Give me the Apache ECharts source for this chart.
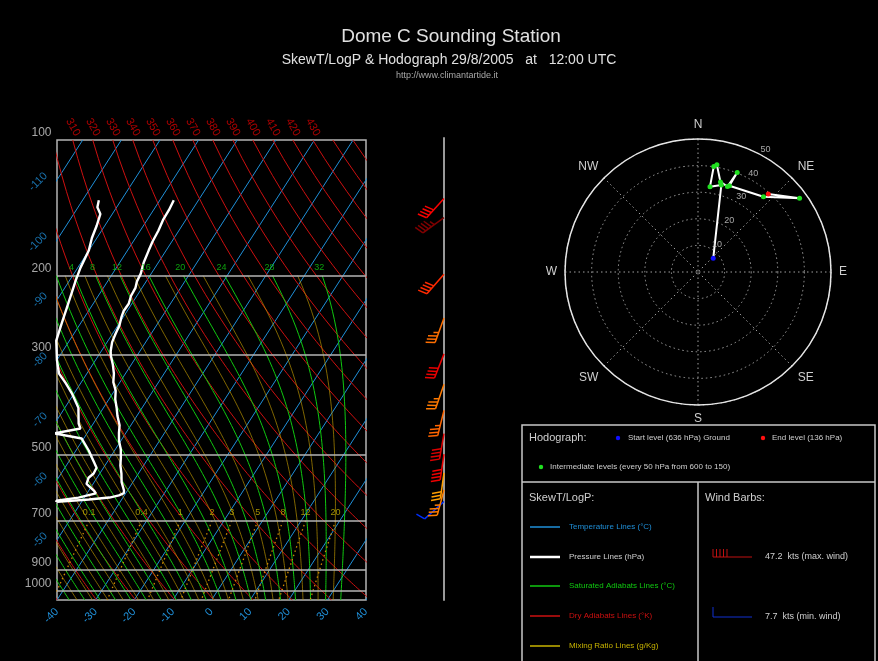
<!DOCTYPE html>
<html><head><meta charset="utf-8">
<script src="https://cdn.jsdelivr.net/npm/echarts/dist/echarts.min.js"></script>
<style>html,body{margin:0;padding:0;background:#000}#c{width:878px;height:661px}</style>
</head><body><div id="c"></div><script>
// ---------------- data ----------------
const pressureLabels = [100, 200, 300, 500, 700, 900, 1000];
const pressureLines = [200, 300, 500, 700, 900, 1000];
const isothermValues = [-110,-100,-90,-80,-70,-60,-50,-40,-30,-20,-10,0,10,20,30,40];
const isothermSideLabels = [-110,-100,-90,-80,-70,-60,-50];
const dryAdiabatTheta = [230,240,250,260,270,280,290,300,310,320,330,340,350,360,370,380,390,400,410,420,430,440,450];
const dryAdiabatLabels = [310,320,330,340,350,360,370,380,390,400,410,420,430];
const moistThetaW = [-40,-36,-32,-28,-24,-20,-16,-12,-8,-4,0,4,8,12,16,20,24,28,32];
const moistThetaWMinor = [-38,-34,-30,-26,-22,-18,-14,-10,-6,-2,2,6,10,14,18,22,26,30];
const moistLabels = [4,8,12,16,20,24,28,32];
const mixingRatios = [0.1,0.4,1,2,3,5,8,12,20];

// sounding: temperature
const tempP = [136,143,150,159,168,176,187,198,206,213,222,231,240,248,258,269,281,294,301,315,330,345,360,376,393,410,430,447,465,486,507,528,550,575,600,608,615,622,628,636];
const tempT = [-76.4,-76.0,-75.9,-75.3,-75.0,-74.5,-73.8,-72.7,-72.4,-71.7,-71.5,-70.8,-70.9,-70.4,-69.6,-69.2,-68.7,-67.6,-66.8,-64.8,-63.0,-61.7,-59.7,-58.4,-56.6,-55.0,-52.9,-51.8,-50.5,-48.6,-47.2,-46.0,-44.4,-42.9,-40.9,-40.5,-41.4,-43.5,-48.5,-56.3];
// sounding: dew point
const dewP = [136,141,146,155,165,176,192,205,218,235,255,279,308,330,347,365,393,426,437,448,460,489,507,534,550,562,580,600,609,622,632,636];
const dewT = [-95.8,-95.0,-93.1,-92.1,-91.3,-90.0,-89.3,-88.4,-87.4,-86.2,-84.9,-83.4,-80.0,-77.2,-73.8,-70.6,-66.5,-63.8,-62.5,-68.5,-60.5,-56.7,-54.7,-51.8,-51.6,-52.2,-51.7,-48.7,-47.7,-51.5,-56.7,-56.5];

// wind / hodograph levels (hPa), speed (kts), direction (deg, hodograph vector)
const windP = [636,600,550,500,450,400,350,300,250,200,150,136];
const windSpeed = [7.7,33.9,32.4,40.1,40.9,34.9,34.0,40.2,34.5,37.5,47.2,39.5];
const windDir = [48,15,8,8.5,10,14,19,21.5,20,41,54,42];

const hodoRings = [10,20,30,40,50];
const compass = {0:'N',45:'NE',90:'E',135:'SE',180:'S',225:'SW',270:'W',315:'NW'};

// ---------------- helpers ----------------
const SKEW = 32.6, PBOT = 1050;
const FONT = "'Liberation Sans', Arial, sans-serif";
const BLUE='#1f8fd8', RED='#cc1010', GREEN='#10c810', YEL='#c8b400', OLIVE='rgba(190,150,0,0.75)', ORANGE='#d08a00';
function X(T,p){ return T + SKEW*Math.log(PBOT/p); }
function dryT(theta,p){ return theta*Math.pow(p/1000,0.2857) - 273.15; }
function esat(TK){ return 6.112*Math.exp(17.67*(TK-273.15)/(TK-29.65)); }
function moistPath(tw, ptop){
  const Rd=287.04, cp=1005.7, Lv=2.501e6, eps=0.622;
  const f=(T,p)=>{const e=esat(T); const rs=eps*e/(p-e); return (Rd*T+Lv*rs)/(p*(cp+Lv*Lv*rs*eps/(Rd*T*T)));};
  const pts=[]; let T=tw+273.15, p=1000; const h=2;
  pts.push([p,T]);
  while(p>ptop){ const k1=f(T,p); const k2=f(T-k1*h/2,p-h/2); T-=k2*h; p-=h; if(p%10===0) pts.push([p,T]); }
  const down=[]; T=tw+273.15; p=1000;
  while(p<PBOT){ const k1=f(T,p); const k2=f(T+k1*h/2,p+h/2); T+=k2*h; p+=h; if(p%10===0) down.push([p,T]); }
  return down.reverse().concat(pts).map(d=>[X(d[1]-273.15,d[0]), d[0]]);
}
function mixT(w,p){ const e=w*p/(622+w); const a=Math.log(e/6.112); return 243.5*a/(17.67-a); }
function jet(s){ const f=Math.min(1,s/45); const c=v=>Math.round(255*Math.max(0,Math.min(1,v)));
  return 'rgb('+c(1.5-Math.abs(4*f-3))+','+c(1.5-Math.abs(4*f-2))+','+c(1.5-Math.abs(4*f-1))+')'; }

const pSamples=[]; for(let p=100;p<=PBOT;p+=10) pSamples.push(p);

const series=[];
function addLine(data,color,width,type){
  series.push({type:'line',xAxisIndex:0,yAxisIndex:0,data,symbol:'none',silent:true,animation:false,clip:true,
    lineStyle:{color,width:width||1,type:type||'solid'},z:2});
}
// isotherms
isothermValues.forEach(T=>addLine([[X(T,PBOT),PBOT],[X(T,100),100]],BLUE,1));
// dry adiabats
dryAdiabatTheta.forEach(th=>addLine(pSamples.map(p=>[X(dryT(th,p),p),p]),RED,1));
// moist adiabats (from 200 hPa down)
moistThetaWMinor.forEach(tw=>addLine(moistPath(tw,200),OLIVE,0.9));
moistThetaW.forEach(tw=>addLine(moistPath(tw,200),GREEN,1));
// mixing ratio lines (dotted, 700 hPa to bottom)
const pMix=[]; for(let p=700;p<=PBOT;p+=10) pMix.push(p);
mixingRatios.forEach(w=>addLine(pMix.map(p=>[X(mixT(w,p),p),p]),ORANGE,1.3,[1.5,3]));
// pressure lines
series.push({type:'line',xAxisIndex:0,yAxisIndex:0,data:[],silent:true,animation:false,
  markLine:{symbol:'none',silent:true,animation:false,label:{show:false},lineStyle:{color:'#b4b4b4',width:1.6,type:'solid'},
    data:pressureLines.map(p=>({yAxis:p}))},z:3});
// sounding
series.push({type:'line',xAxisIndex:0,yAxisIndex:0,data:tempP.map((p,i)=>[X(tempT[i],p),p]),symbol:'none',animation:false,
  lineStyle:{color:'#ffffff',width:2.4},z:5,clip:true});
series.push({type:'line',xAxisIndex:0,yAxisIndex:0,data:dewP.map((p,i)=>[X(dewT[i],p),p]),symbol:'none',animation:false,
  lineStyle:{color:'#ffffff',width:2.4},z:5,clip:true});

function labelSeries(data,label){
  series.push({type:'scatter',xAxisIndex:0,yAxisIndex:0,data,symbolSize:1,itemStyle:{color:'rgba(0,0,0,0)'},
    silent:true,animation:false,clip:false,z:6,label:Object.assign({show:true,fontFamily:FONT},label)});
}
// pressure labels
labelSeries(pressureLabels.map(p=>({value:[-40,p],name:String(p)})),
  {position:'left',distance:5,offset:[0,-7],color:'#cfcfcf',fontSize:12,formatter:d=>d.name});
// isotherm side labels
labelSeries(isothermSideLabels.map(T=>({value:[-40,PBOT*Math.exp(-(-40-T)/SKEW)],name:String(T)})),
  {position:'left',distance:8,offset:[2,-6],rotate:45,color:BLUE,fontSize:11,formatter:d=>d.name});
// dry adiabat labels on top
labelSeries(dryAdiabatLabels.map(th=>({value:[X(dryT(th,100),100),100],name:String(th)})),
  {position:'inside',offset:[-11,-6.5],rotate:-60,color:'#d80000',fontSize:11,formatter:d=>d.name});
// moist adiabat labels at 200 hPa
labelSeries(moistLabels.map(tw=>{const pts=moistPath(tw,200); const last=pts[pts.length-1]; return {value:[last[0],200],name:String(tw)};}),
  {position:'top',distance:3,offset:[-3,0],color:GREEN,fontSize:9,formatter:d=>d.name});
// mixing ratio labels at 700 hPa
labelSeries(mixingRatios.map(w=>({value:[X(mixT(w,700),700),700],name:String(w)})),
  {position:'top',distance:3,color:YEL,fontSize:9,formatter:d=>d.name});

// wind barbs
series.push({type:'custom',xAxisIndex:1,yAxisIndex:1,animation:false,silent:true,z:5,clip:false,
  data:windP.map((p,i)=>[0,p,windSpeed[i],windDir[i]]),
  renderItem:function(params,api){
    const p=api.value(1), s=api.value(2), d=api.value(3);
    const b=api.coord([0,p]);
    const a=(d+180)*Math.PI/180; const ux=Math.sin(a), uy=-Math.cos(a);
    const nx=-uy, ny=ux; const L=26; const col=jet(s);
    const tip=[b[0]+ux*L,b[1]+uy*L];
    const ch=[{type:'line',shape:{x1:b[0],y1:b[1],x2:tip[0],y2:tip[1]},style:{stroke:col,lineWidth:1.5}}];
    let r=Math.round(s/5)*5, k=0;
    while(r>=10){const bx=tip[0]-ux*k*3.5, by=tip[1]-uy*k*3.5;
      ch.push({type:'line',shape:{x1:bx,y1:by,x2:bx+nx*9+ux*3,y2:by+ny*9+uy*3},style:{stroke:col,lineWidth:1.5}}); r-=10;k++;}
    if(r>=5){const bx=tip[0]-ux*k*3.5, by=tip[1]-uy*k*3.5;
      ch.push({type:'line',shape:{x1:bx,y1:by,x2:bx+nx*5+ux*1.6,y2:by+ny*5+uy*1.6},style:{stroke:col,lineWidth:1.5}});}
    return {type:'group',children:ch};
  }});

// hodograph
series.push({type:'line',coordinateSystem:'polar',animation:false,silent:true,z:5,
  data:windSpeed.map((s,i)=>{const it={value:[s,windDir[i]]};
    if(i===0) it.itemStyle={color:'#1010ff'}; else if(i===windSpeed.length-1) it.itemStyle={color:'#ff1010'}; return it;}),
  symbol:'circle',symbolSize:5,itemStyle:{color:'#20e020'},lineStyle:{color:'#ffffff',width:2}});
series.push({type:'scatter',coordinateSystem:'polar',animation:false,silent:true,z:6,symbolSize:1,
  itemStyle:{color:'rgba(0,0,0,0)'},data:hodoRings.map(r=>({value:[r,27],name:String(r)})),
  label:{show:true,position:'inside',offset:[7,-4],color:'#cfcfcf',fontSize:9,fontFamily:FONT,formatter:d=>d.name}});

// ---------------- graphics (titles & legend box) ----------------
const G=[];
function txt(x,y,text,fill,size,align){ G.push({type:'text',x,y,silent:true,style:{text,fill,font:size+'px '+FONT,textAlign:align||'left',textVerticalAlign:'middle'}}); }
function ln(x1,y1,x2,y2,stroke,w){ G.push({type:'line',silent:true,shape:{x1,y1,x2,y2},style:{stroke,lineWidth:w||1}}); }
function dot(x,y,fill){ G.push({type:'circle',silent:true,shape:{cx:x,cy:y,r:2.2},style:{fill}}); }
txt(451,37,'Dome C Sounding Station','#e0e0e0',19,'center');
txt(449,60,'SkewT/LogP & Hodograph 29/8/2005   at   12:00 UTC','#e0e0e0',14,'center');
txt(447,76,'http://www.climantartide.it','#a8a8a8',9,'center');
// legend box
G.push({type:'rect',silent:true,shape:{x:522,y:425,width:353,height:240},style:{fill:'none',stroke:'#c8c8c8',lineWidth:1.5}});
ln(522,482,875,482,'#c8c8c8',1.5); ln(698,482,698,661,'#c8c8c8',1.5);
txt(529,438,'Hodograph:','#cfcfcf',11);
dot(618,438,'#1010ff'); txt(628,438,'Start level (636 hPa) Ground','#cfcfcf',8);
dot(763,438,'#ff1010'); txt(772,438,'End level (136 hPa)','#cfcfcf',8);
dot(541,467,'#20e020'); txt(550,467,'Intermediate levels (every 50 hPa from 600 to 150)','#cfcfcf',8);
txt(529,498,'SkewT/LogP:','#cfcfcf',11);
txt(705,498,'Wind Barbs:','#cfcfcf',11);
const legRows=[[527,BLUE,'Temperature Lines (°C)',BLUE],[557,'#ffffff','Pressure Lines (hPa)','#cfcfcf'],
  [586,GREEN,'Saturated Adiabats Lines (°C)',GREEN],[616,RED,'Dry Adiabats Lines (°K)',RED],[646,YEL,'Mixing Ratio Lines (g/Kg)',YEL]];
legRows.forEach(r=>{ ln(530,r[0],560,r[0],r[1],r[1]==='#ffffff'?2.5:1.5); txt(569,r[0],r[2],r[3],8); });
// wind barb legend icons
ln(713,557,752,557,'#c01010',1); for(let i=0;i<5;i++) ln(713+i*3.5,557,713+i*3.5,549,'#c01010',1);
txt(765,557,'47.2  kts (max. wind)','#cfcfcf',9);
ln(713,617,752,617,'#1030d0',1); ln(713,617,713,607,'#1030d0',1);
txt(765,617,'7.7  kts (min. wind)','#cfcfcf',9);

const option={
  backgroundColor:'#000',
  animation:false,
  textStyle:{fontFamily:FONT},
  grid:[{left:57,top:140,width:309,bottom:61,show:true,borderColor:'#b4b4b4',borderWidth:1.5,backgroundColor:'transparent'},
        {left:444,top:138,width:40,bottom:61}],
  xAxis:[{type:'value',gridIndex:0,min:-40,max:40,interval:10,
    axisLine:{show:false},axisTick:{show:false},splitLine:{show:false},
    axisLabel:{color:BLUE,rotate:45,fontSize:11,margin:10,fontFamily:FONT}},
    {type:'value',gridIndex:1,min:0,max:1,show:false}],
  yAxis:[{type:'log',logBase:10,gridIndex:0,min:100,max:PBOT,inverse:true,
    axisLine:{show:false},axisTick:{show:false},axisLabel:{show:false},splitLine:{show:false}},
    {type:'log',logBase:10,gridIndex:1,min:100,max:PBOT,inverse:true,
    axisLine:{show:true,lineStyle:{color:'#9a9a9a',width:2}},axisTick:{show:false},axisLabel:{show:false},splitLine:{show:false}}],
  polar:{center:[698,272],radius:133},
  angleAxis:{type:'value',min:0,max:360,interval:45,startAngle:90,clockwise:true,
    axisLine:{show:true,lineStyle:{color:'#e6e6e6',width:1.5}},axisTick:{show:false},
    axisLabel:{color:'#cfcfcf',fontSize:12,margin:8,fontFamily:FONT,formatter:v=>v===360?'':compass[v]},
    splitLine:{show:true,lineStyle:{color:'#a0a0a0',type:[1.5,3],width:1}}},
  radiusAxis:{type:'value',min:0,max:50,interval:10,axisLine:{show:false},axisTick:{show:false},axisLabel:{show:false},
    splitLine:{show:true,lineStyle:{color:'#a0a0a0',type:[1.5,3],width:1}}},
  graphic:G,
  series
};
const chart=echarts.init(document.getElementById('c'),null,{renderer:'canvas'});
chart.setOption(option);
</script></body></html>
